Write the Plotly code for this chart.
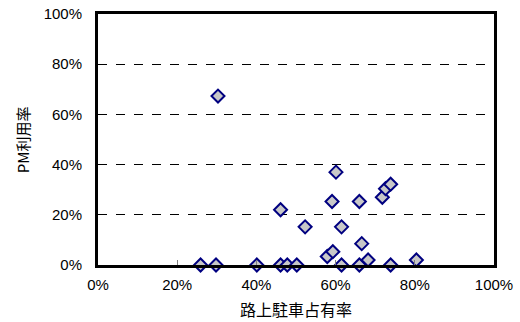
import plotly.graph_objects as go

occupancy = [25.9, 29.8, 30.3, 40.1, 46.1, 47.8, 50.2, 46.1, 52.3, 57.9, 59.3, 59.1,
             60.1, 61.5, 61.5, 66.0, 66.0, 66.6, 68.2, 71.8, 72.6, 73.9, 73.9, 80.4]
pm_usage = [0, 0, 67.3, 0, 0, 0, 0, 22.0, 15.2, 3.4, 5.3, 25.3,
            37.0, 15.2, 0, 25.3, 0, 8.5, 2.0, 27.0, 30.4, 32.2, 0, 2.0]
tick_vals = [0, 20, 40, 60, 80, 100]
tick_text = ["0%", "20%", "40%", "60%", "80%", "100%"]
x_title = "路上駐車占有率"
y_title = "PM利用率"

fig = go.Figure()
fig.add_trace(go.Scatter(
    x=occupancy, y=pm_usage, mode="markers",
    marker=dict(symbol="diamond", size=10, color="#c8c8c8",
                line=dict(color="#000080", width=2)),
    cliponaxis=False,
))
font = "Liberation Sans, Arial, Noto Sans CJK JP, sans-serif"
fig.update_layout(
    width=520, height=322,
    margin=dict(l=98, r=26, t=14, b=57),
    plot_bgcolor="white", paper_bgcolor="white",
    showlegend=False,
    font=dict(family=font, size=15, color="black"),
)
fig.add_annotation(
    text=x_title, xref="paper", yref="paper", x=0.5, y=-0.175,
    xanchor="center", yanchor="middle", showarrow=False,
    font=dict(family="Noto Sans CJK JP", size=16, color="black"),
)
fig.add_annotation(
    text=y_title, xref="paper", yref="paper", x=-0.19, y=0.5,
    xanchor="center", yanchor="middle", showarrow=False, textangle=-90,
    font=dict(family="Noto Sans CJK JP", size=15, color="black"),
)
fig.update_xaxes(
    range=[0, 100], tickvals=tick_vals, ticktext=tick_text,
    showgrid=False, zeroline=False, automargin=False,
    showline=True, linecolor="black", linewidth=3, mirror=True,
    ticks="inside", ticklen=5, tickcolor="#808080",
    ticklabelstandoff=4,
)
fig.update_yaxes(
    range=[0, 100], tickvals=tick_vals, ticktext=tick_text,
    showgrid=True, gridcolor="black", griddash="dash", gridwidth=1,
    zeroline=False, automargin=False,
    showline=True, linecolor="black", linewidth=3, mirror=True,
    ticks="", ticklabelstandoff=10,
)
fig.write_html("out.html", config={"displayModeBar": False},
               post_script="document.body.style.margin='0px';")
